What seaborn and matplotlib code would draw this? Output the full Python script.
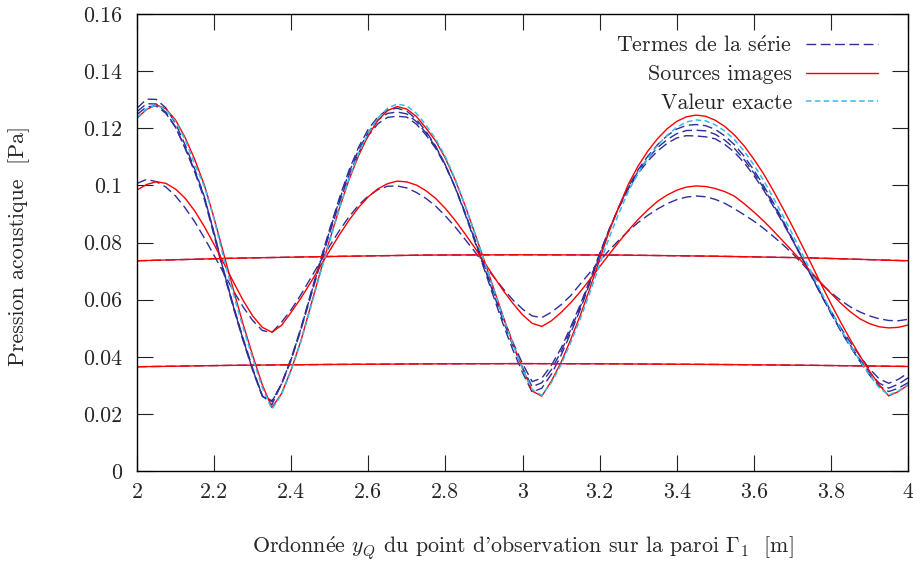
import matplotlib
matplotlib.use("Agg")
import matplotlib.pyplot as plt
from matplotlib.lines import Line2D
import seaborn as sns

# Observation ordinate on wall Gamma_1 [m]
y_obs = [2.000, 2.025, 2.050, 2.075, 2.100, 2.125, 2.150, 2.175, 2.200, 2.225,
         2.250, 2.275, 2.300, 2.325, 2.350, 2.375, 2.400, 2.425, 2.450, 2.475,
         2.500, 2.525, 2.550, 2.575, 2.600, 2.625, 2.650, 2.675, 2.700, 2.725,
         2.750, 2.775, 2.800, 2.825, 2.850, 2.875, 2.900, 2.925, 2.950, 2.975,
         3.000, 3.025, 3.050, 3.075, 3.100, 3.125, 3.150, 3.175, 3.200, 3.225,
         3.250, 3.275, 3.300, 3.325, 3.350, 3.375, 3.400, 3.425, 3.450, 3.475,
         3.500, 3.525, 3.550, 3.575, 3.600, 3.625, 3.650, 3.675, 3.700, 3.725,
         3.750, 3.775, 3.800, 3.825, 3.850, 3.875, 3.900, 3.925, 3.950, 3.975,
         4.000]

# Exact pressure
p_exact = [0.1238, 0.1268, 0.1281, 0.1265, 0.1224, 0.1160, 0.1074, 0.0995, 0.0882, 0.0745,
           0.0620, 0.0503, 0.0395, 0.0292, 0.0216, 0.0268, 0.0352, 0.0452, 0.0570, 0.0690,
           0.0806, 0.0918, 0.1024, 0.1112, 0.1184, 0.1236, 0.1270, 0.1285, 0.1278, 0.1252,
           0.1210, 0.1162, 0.1100, 0.1023, 0.0934, 0.0838, 0.0738, 0.0637, 0.0537, 0.0444,
           0.0358, 0.0285, 0.0265, 0.0310, 0.0372, 0.0450, 0.0533, 0.0625, 0.0722, 0.0818,
           0.0902, 0.0980, 0.1043, 0.1095, 0.1140, 0.1175, 0.1203, 0.1222, 0.1229, 0.1226,
           0.1212, 0.1190, 0.1160, 0.1120, 0.1072, 0.1018, 0.0958, 0.0895, 0.0830, 0.0762,
           0.0694, 0.0626, 0.0560, 0.0498, 0.0440, 0.0386, 0.0336, 0.0292, 0.0266, 0.0280,
           0.0302]

# Image sources, two oscillating truncations
p_img_a = [0.0984, 0.1003, 0.1013, 0.1007, 0.0987, 0.0955, 0.0910, 0.0855, 0.0793, 0.0728,
           0.0662, 0.0598, 0.0543, 0.0503, 0.0486, 0.0510, 0.0556, 0.0605, 0.0659, 0.0716,
           0.0772, 0.0827, 0.0878, 0.0923, 0.0960, 0.0988, 0.1006, 0.1015, 0.1012, 0.1001,
           0.0981, 0.0954, 0.0919, 0.0878, 0.0832, 0.0784, 0.0733, 0.0682, 0.0632, 0.0587,
           0.0547, 0.0517, 0.0506, 0.0526, 0.0555, 0.0589, 0.0628, 0.0671, 0.0715, 0.0759,
           0.0802, 0.0843, 0.0881, 0.0914, 0.0944, 0.0966, 0.0983, 0.0994, 0.0998, 0.0996,
           0.0989, 0.0978, 0.0962, 0.0936, 0.0907, 0.0876, 0.0842, 0.0806, 0.0770, 0.0733,
           0.0695, 0.0658, 0.0622, 0.0588, 0.0558, 0.0533, 0.0516, 0.0505, 0.0501, 0.0503,
           0.0511]
p_img_b = [0.1235, 0.1266, 0.1282, 0.1268, 0.1229, 0.1167, 0.1090, 0.1000, 0.0885, 0.0760,
           0.0635, 0.0515, 0.0405, 0.0302, 0.0222, 0.0271, 0.0355, 0.0455, 0.0575, 0.0695,
           0.0810, 0.0920, 0.1020, 0.1105, 0.1175, 0.1228, 0.1262, 0.1276, 0.1267, 0.1241,
           0.1200, 0.1155, 0.1095, 0.1020, 0.0933, 0.0838, 0.0740, 0.0640, 0.0540, 0.0447,
           0.0360, 0.0280, 0.0262, 0.0315, 0.0380, 0.0460, 0.0545, 0.0640, 0.0740, 0.0840,
           0.0925, 0.1005, 0.1068, 0.1120, 0.1163, 0.1198, 0.1224, 0.1240, 0.1246, 0.1242,
           0.1228, 0.1206, 0.1176, 0.1138, 0.1092, 0.1041, 0.0983, 0.0921, 0.0857, 0.0790,
           0.0722, 0.0653, 0.0586, 0.0522, 0.0461, 0.0404, 0.0350, 0.0302, 0.0263, 0.0278,
           0.0301]

# Modal series, successive truncations
p_ser_a = [0.1007, 0.1021, 0.1013, 0.0994, 0.0963, 0.0921, 0.0872, 0.0815, 0.0755, 0.0693,
           0.0631, 0.0575, 0.0527, 0.0492, 0.0485, 0.0521, 0.0565, 0.0617, 0.0674, 0.0732,
           0.0788, 0.0842, 0.0890, 0.0931, 0.0963, 0.0985, 0.0997, 0.0998, 0.0991, 0.0975,
           0.0954, 0.0927, 0.0893, 0.0855, 0.0813, 0.0770, 0.0724, 0.0680, 0.0638, 0.0599,
           0.0567, 0.0543, 0.0537, 0.0556, 0.0582, 0.0614, 0.0655, 0.0695, 0.0735, 0.0773,
           0.0808, 0.0841, 0.0870, 0.0895, 0.0917, 0.0936, 0.0950, 0.0959, 0.0963, 0.0960,
           0.0951, 0.0937, 0.0918, 0.0897, 0.0875, 0.0850, 0.0822, 0.0793, 0.0762, 0.0727,
           0.0690, 0.0655, 0.0625, 0.0598, 0.0575, 0.0557, 0.0543, 0.0533, 0.0527, 0.0526,
           0.0531]
p_ser_b = [0.1270, 0.1302, 0.1301, 0.1271, 0.1217, 0.1141, 0.1056, 0.0959, 0.0832, 0.0699,
           0.0576, 0.0461, 0.0355, 0.0264, 0.0246, 0.0303, 0.0389, 0.0493, 0.0608, 0.0723,
           0.0834, 0.0940, 0.1035, 0.1114, 0.1174, 0.1216, 0.1238, 0.1242, 0.1239, 0.1214,
           0.1176, 0.1129, 0.1068, 0.0994, 0.0908, 0.0817, 0.0723, 0.0628, 0.0536, 0.0451,
           0.0376, 0.0313, 0.0325, 0.0370, 0.0430, 0.0504, 0.0583, 0.0670, 0.0761, 0.0846,
           0.0922, 0.0989, 0.1042, 0.1085, 0.1120, 0.1147, 0.1166, 0.1174, 0.1173, 0.1170,
           0.1163, 0.1143, 0.1116, 0.1079, 0.1035, 0.0985, 0.0928, 0.0870, 0.0809, 0.0746,
           0.0683, 0.0620, 0.0560, 0.0503, 0.0451, 0.0403, 0.0358, 0.0323, 0.0307, 0.0321,
           0.0343]
p_ser_c = [0.1258, 0.1286, 0.1285, 0.1256, 0.1204, 0.1129, 0.1046, 0.0950, 0.0824, 0.0693,
           0.0571, 0.0457, 0.0352, 0.0261, 0.0243, 0.0305, 0.0392, 0.0497, 0.0614, 0.0729,
           0.0842, 0.0948, 0.1045, 0.1125, 0.1186, 0.1229, 0.1252, 0.1257, 0.1250, 0.1223,
           0.1183, 0.1134, 0.1071, 0.0995, 0.0907, 0.0813, 0.0717, 0.0620, 0.0526, 0.0439,
           0.0362, 0.0295, 0.0309, 0.0355, 0.0418, 0.0494, 0.0575, 0.0665, 0.0758, 0.0846,
           0.0924, 0.0993, 0.1049, 0.1094, 0.1132, 0.1160, 0.1181, 0.1192, 0.1193, 0.1191,
           0.1179, 0.1158, 0.1129, 0.1090, 0.1044, 0.0992, 0.0934, 0.0874, 0.0810, 0.0745,
           0.0680, 0.0616, 0.0554, 0.0495, 0.0441, 0.0391, 0.0345, 0.0308, 0.0290, 0.0304,
           0.0326]
p_ser_d = [0.1248, 0.1275, 0.1278, 0.1252, 0.1203, 0.1132, 0.1050, 0.0958, 0.0834, 0.0702,
           0.0580, 0.0466, 0.0360, 0.0264, 0.0232, 0.0306, 0.0395, 0.0500, 0.0618, 0.0735,
           0.0848, 0.0956, 0.1053, 0.1134, 0.1197, 0.1240, 0.1265, 0.1270, 0.1260, 0.1231,
           0.1189, 0.1137, 0.1072, 0.0993, 0.0903, 0.0808, 0.0709, 0.0610, 0.0513, 0.0424,
           0.0345, 0.0276, 0.0290, 0.0339, 0.0405, 0.0483, 0.0566, 0.0659, 0.0754, 0.0844,
           0.0925, 0.0996, 0.1055, 0.1102, 0.1142, 0.1174, 0.1197, 0.1210, 0.1213, 0.1209,
           0.1196, 0.1173, 0.1142, 0.1102, 0.1054, 0.1000, 0.0941, 0.0879, 0.0814, 0.0748,
           0.0681, 0.0616, 0.0552, 0.0491, 0.0436, 0.0384, 0.0336, 0.0298, 0.0278, 0.0290,
           0.0309]

# Nearly flat low-order curves (coarser sampling)
y_flat = [2.0, 2.25, 2.5, 2.75, 3.0, 3.25, 3.5, 3.75, 4.0]
p_img_1 = [0.0365, 0.0370, 0.0373, 0.0375, 0.0376, 0.0375, 0.0373, 0.0370, 0.0366]
p_img_2 = [0.0736, 0.0745, 0.0751, 0.0756, 0.0757, 0.0756, 0.0752, 0.0746, 0.0736]
p_ser_1 = [0.0365, 0.0370, 0.0373, 0.0375, 0.0376, 0.0375, 0.0373, 0.0370, 0.0366]
p_ser_2 = [0.0736, 0.0745, 0.0751, 0.0756, 0.0757, 0.0756, 0.0752, 0.0746, 0.0736]

x_ticks = [2.0, 2.2, 2.4, 2.6, 2.8, 3.0, 3.2, 3.4, 3.6, 3.8, 4.0]
x_tick_labels = ["2", "2.2", "2.4", "2.6", "2.8", "3", "3.2", "3.4", "3.6", "3.8", "4"]
y_ticks = [0.0, 0.02, 0.04, 0.06, 0.08, 0.10, 0.12, 0.14, 0.16]
y_tick_labels = ["0", "0.02", "0.04", "0.06", "0.08", "0.1", "0.12", "0.14", "0.16"]

legend_labels = [r"Termes de la s$\mathrm{\acute{e}}$rie", "Sources images", "Valeur exacte"]

sns.set_style("ticks")
plt.rcParams.update({
    "font.family": ["cmr10", "DejaVu Serif"],
    "mathtext.fontset": "cm",
    "axes.unicode_minus": False,
    "axes.formatter.use_mathtext": True,
})

FS = 15.8
c_ser = "#2e2e98"
c_img = "#ff0000"
c_ex = "#33bbf0"
ls_ser = (0, (7, 3.3))
ls_ex = (0, (3.6, 2.2))
LW = 1.0

fig = plt.figure(figsize=(9.13, 5.63), dpi=100)
ax = fig.add_axes([137 / 913, 92 / 563, 771 / 913, 457 / 563])

kw = dict(ax=ax, sort=False, estimator=None, legend=False)

# series truncations
for ys in (p_ser_1, p_ser_2):
    sns.lineplot(x=y_flat, y=ys, color=c_ser, lw=LW, linestyle=ls_ser, **kw)
for ys in (p_ser_a, p_ser_b, p_ser_c, p_ser_d):
    sns.lineplot(x=y_obs, y=ys, color=c_ser, lw=LW, linestyle=ls_ser, **kw)

# image sources
for ys in (p_img_1, p_img_2):
    sns.lineplot(x=y_flat, y=ys, color=c_img, lw=LW, **kw)
for ys in (p_img_a, p_img_b):
    sns.lineplot(x=y_obs, y=ys, color=c_img, lw=LW, **kw)

# exact solution
sns.lineplot(x=y_obs, y=p_exact, color=c_ex, lw=1.1, linestyle=ls_ex, **kw)

ax.set_xlim(2, 4)
ax.set_ylim(0, 0.16)
ax.set_xticks(x_ticks)
ax.set_xticklabels(x_tick_labels)
ax.set_yticks(y_ticks)
ax.set_yticklabels(y_tick_labels)
ax.tick_params(axis="both", direction="in", length=11.5, width=0.8, color="#222222",
               top=True, right=True, labelsize=FS)
ax.tick_params(axis="y", pad=10.8)
ax.tick_params(axis="x", pad=8)
for sp in ax.spines.values():
    sp.set_visible(True)
    sp.set_color("black")
    sp.set_linewidth(1.0)

ax.set_xlabel(r"Ordonn$\mathrm{\acute{e}}$e $y_Q$ du point d'observation sur la paroi $\Gamma_1$  [m]",
              fontsize=FS)
ax.xaxis.set_label_coords(0.5, -0.137)
fig.text(19 / 913, 1 - 246 / 563, "Pression acoustique  [Pa]", rotation=90,
         ha="center", va="center", fontsize=FS)

handles = [
    Line2D([], [], color=c_ser, lw=LW, linestyle=ls_ser),
    Line2D([], [], color=c_img, lw=LW),
    Line2D([], [], color=c_ex, lw=1.1, linestyle=ls_ex),
]
ax.legend(handles, legend_labels, loc="upper right", bbox_to_anchor=(0.961, 0.955),
          frameon=False, markerfirst=False, fontsize=FS, handlelength=3.3,
          handletextpad=0.6, labelspacing=0.42, borderpad=0, borderaxespad=0)

fig.savefig("out.png", dpi=100)
